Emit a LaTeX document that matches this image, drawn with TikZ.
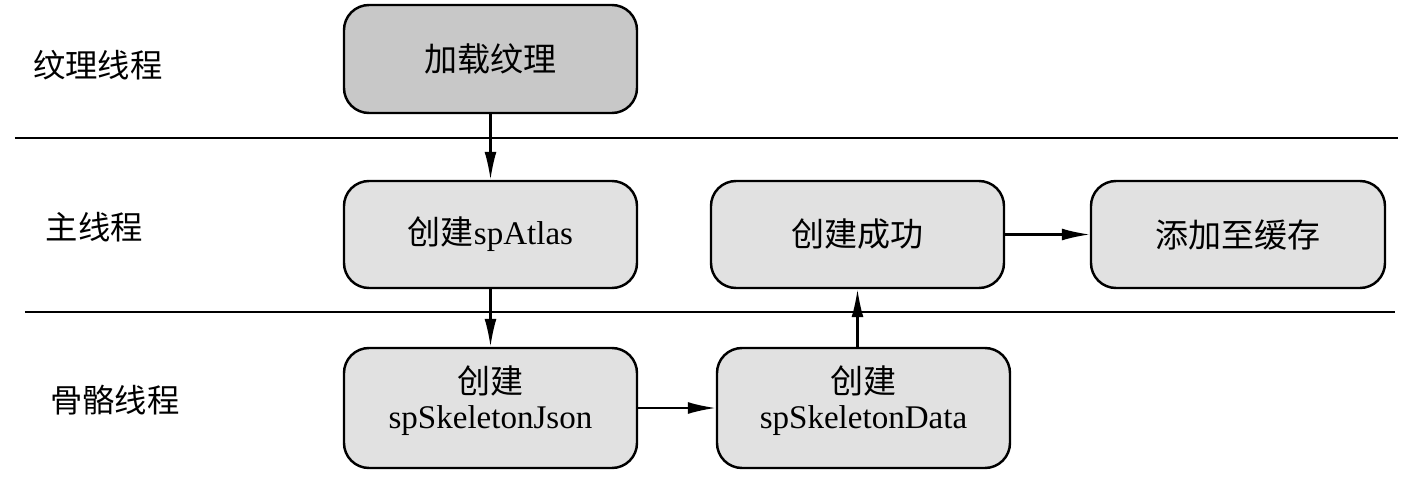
\documentclass[tikz,border=0pt]{standalone}
\usepackage{fontspec}
\setmainfont{Liberation Serif}
\newfontfamily\cjk{Noto Sans CJK SC}
\usetikzlibrary{arrows.meta}

\tikzset{
  taskbox/.style={draw,line width=0.7pt,rounded corners=0.25cm,fill=boxgray,
    minimum width=2.93cm,minimum height=1.07cm,align=center,
    font=\fontsize{9.4pt}{10.2pt}\selectfont},
  lanetext/.style={font=\cjk\fontsize{9.2pt}{11pt}\selectfont},
}
\definecolor{boxgray}{HTML}{E1E1E1}
\definecolor{darkgray}{HTML}{C8C8C8}

\begin{document}
\begin{tikzpicture}[>={Latex[length=2.8mm,width=1.2mm]},line width=0.6pt]
\useasboundingbox (0,0) rectangle (14.1,4.84);

\draw (0.15,3.46) -- (13.98,3.46);
\draw (0.25,1.72) -- (13.95,1.72);

\node[lanetext] (texlane) at (0.98,4.19) {纹理线程};
\node[lanetext] (mainlane) at (0.945,2.57) {主线程};
\node[lanetext] (bonelane) at (1.15,0.84) {骨骼线程};

\node[taskbox,fill=darkgray,minimum width=2.93cm,minimum height=1.08cm] (tex) at (4.905,4.25) {\cjk 加载纹理};
\node[taskbox] (atlas) at (4.905,2.495) {{\cjk 创建}spAtlas};
\node[taskbox] (ok) at (8.575,2.495) {\cjk 创建成功};
\node[taskbox,minimum width=2.94cm] (cache) at (12.38,2.495) {\cjk 添加至缓存};
\node[taskbox,minimum height=1.2cm] (json) at (4.905,0.76) {{\cjk 创建}\\spSkeletonJson\\[-4pt]\mbox{}};
\node[taskbox,minimum height=1.2cm] (data) at (8.635,0.76) {{\cjk 创建}\\spSkeletonData\\[-4pt]\mbox{}};

\draw[->] (tex) -- (atlas);
\draw[->] (atlas) -- (json);
\draw[->] (json) -- (data);
\draw[->] (data.north -| ok.south) -- (ok.south);
\draw[->] (ok) -- (cache);
\end{tikzpicture}
\end{document}
